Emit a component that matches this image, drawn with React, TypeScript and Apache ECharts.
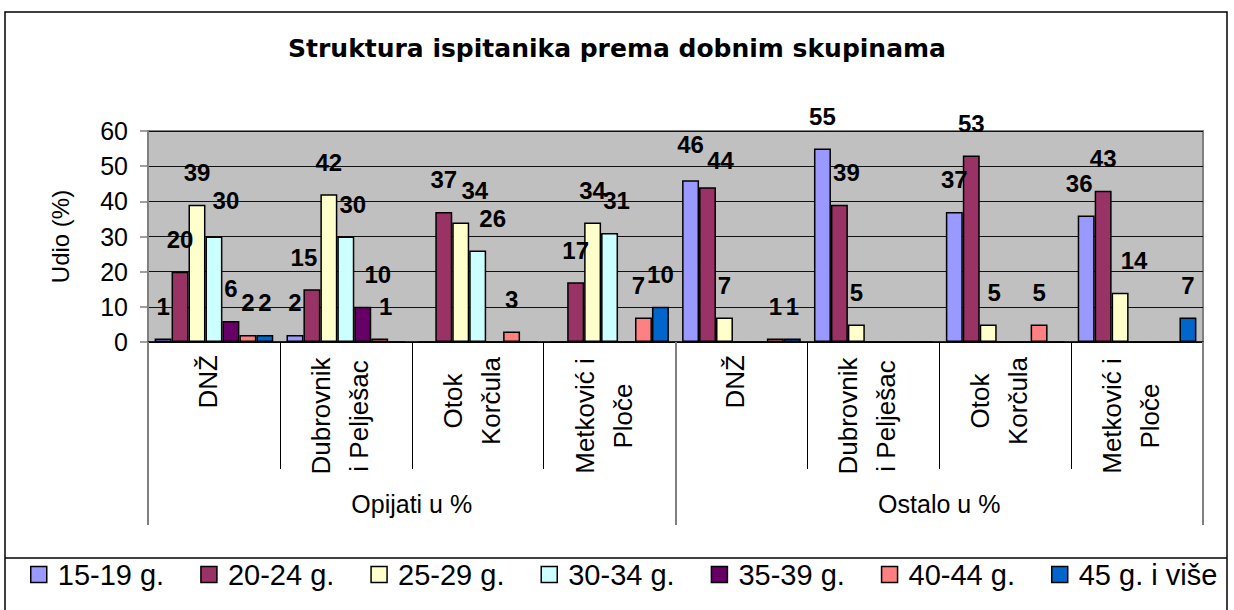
import React, { useEffect, useRef } from "react";
import * as echarts from "echarts";

const titleText = "Struktura ispitanika prema dobnim skupinama";
const yAxisName = "Udio (%)";
const categories = [
  "DNŽ",
  "Dubrovnik\ni Pelješac",
  "Otok\nKorčula",
  "Metković i\nPloče",
  "DNŽ",
  "Dubrovnik\ni Pelješac",
  "Otok\nKorčula",
  "Metković i\nPloče",
];
const groups = ["Opijati u %", "Ostalo u %"];
const ageGroups = ["15-19 g.", "20-24 g.", "25-29 g.", "30-34 g.", "35-39 g.", "40-44 g.", "45 g. i više"];
const s15_19 = [1, 2, 0, 0, 46, 55, 37, 36];
const s20_24 = [20, 15, 37, 17, 44, 39, 53, 43];
const s25_29 = [39, 42, 34, 34, 7, 5, 5, 14];
const s30_34 = [30, 30, 26, 31, 0, 0, 0, 0];
const s35_39 = [6, 10, 0, 0, 0, 0, 0, 0];
const s40_44 = [2, 1, 3, 7, 1, 0, 5, 0];
const s45plus = [2, 0, 0, 10, 1, 0, 0, 7];
const seriesValues = [s15_19, s20_24, s25_29, s30_34, s35_39, s40_44, s45plus];
const colors = ["#9999FF", "#993366", "#FFFFCC", "#CCFFFF", "#660066", "#FF8080", "#0066CC"];

// label nudges (series index, category index, dx, dy) as placed in the original
const labelShifts: number[][] = [
  [3, 0, 12, -4],
  [1, 1, -8, 0],
  [4, 1, 15, 0],
  [5, 1, 6, 0],
  [3, 1, 7, 0],
  [2, 2, 14, 0],
  [3, 2, 15, 0],
  [3, 3, 7, 0],
  [5, 3, -5, 0],
  [1, 4, 13, 5],
  [0, 4, 0, -4],
  [1, 5, 7, 0],
  [2, 6, 6, 0],
  [0, 7, -7, 0],
  [2, 7, 14, 0],
];

const FONT = "'Liberation Sans', Arial, sans-serif";

export default function App() {
  const ref = useRef<HTMLDivElement>(null);
  useEffect(() => {
    if (!ref.current) return;
    const chart = echarts.init(ref.current, null, { renderer: "svg" });
    const catLabel = (value: string) => {
      if (value.indexOf("\n") < 0) return value;
      const style = value.startsWith("Otok") ? "mid" : "wide";
      return value
        .split("\n")
        .map((l) => `{${style}|${l}}`)
        .join("\n");
    };
    const buildData = (si: number) =>
      seriesValues[si].map((v, ci) => {
        const s = labelShifts.find((r) => r[0] === si && r[1] === ci);
        return s ? { value: v, label: { offset: [s[2], s[3]] } } : v;
      });
    chart.setOption({
      animation: false,
      color: colors,
      textStyle: { fontFamily: FONT, color: "#000" },
      title: {
        text: titleText,
        left: "center",
        top: 31,
        textStyle: { fontFamily: "'DejaVu Sans', sans-serif", fontWeight: "bold", fontSize: 25, color: "#000" },
      },
      graphic: [
        {
          type: "rect",
          shape: { x: 5, y: 12, width: 1222, height: 640 },
          style: { fill: "none", stroke: "#000", lineWidth: 1.5 },
          silent: true,
        },
        {
          type: "line",
          shape: { x1: 5, y1: 558, x2: 1227, y2: 558 },
          style: { stroke: "#000", lineWidth: 1.5 },
          silent: true,
        },
      ],
      legend: {
        left: 30,
        top: 560,
        padding: 0,
        itemWidth: 16,
        itemHeight: 16,
        itemGap: 36,
        icon: "rect",
        itemStyle: { borderColor: "#000", borderWidth: 1.5 },
        textStyle: { fontFamily: FONT, fontSize: 29, color: "#000", padding: [0, 0, 0, 6] },
        data: ageGroups,
      },
      grid: {
        left: 148,
        top: 131,
        right: 31,
        bottom: 268,
        show: true,
        backgroundColor: "#C0C0C0",
        borderColor: "#808080",
        borderWidth: 2,
      },
      xAxis: [
        {
          type: "category",
          data: categories,
          position: "bottom",
          axisLine: { show: true, lineStyle: { color: "#000", width: 1.5 } },
          axisTick: { show: true, interval: 0, length: 127, lineStyle: { color: "#000", width: 1 } },
          axisLabel: {
            interval: 0,
            rotate: 90,
            margin: 13,
            fontSize: 26,
            fontFamily: FONT,
            color: "#000",
            lineHeight: 38,
            padding: [0, 0, 12, 0],
            formatter: catLabel,
            rich: {
              wide: { width: 122, align: "center", fontSize: 26, lineHeight: 38, fontFamily: FONT, color: "#000" },
              mid: { width: 92, align: "center", fontSize: 26, lineHeight: 38, fontFamily: FONT, color: "#000" },
            },
          },
        },
        {
          type: "category",
          data: groups,
          position: "bottom",
          gridIndex: 0,
          axisLine: { show: false },
          axisTick: { show: true, interval: 0, length: 183, lineStyle: { color: "#808080", width: 2 } },
          axisLabel: { interval: 0, margin: 149, fontSize: 25, fontFamily: FONT, color: "#000" },
        },
      ],
      yAxis: {
        type: "value",
        min: 0,
        max: 60,
        interval: 10,
        name: yAxisName,
        nameLocation: "middle",
        nameRotate: 90,
        nameGap: 76,
        nameTextStyle: { fontSize: 24, fontFamily: FONT, color: "#000" },
        axisLine: { show: true, lineStyle: { color: "#808080", width: 2 } },
        axisTick: { show: true, length: 8, lineStyle: { color: "#808080", width: 1.5 } },
        axisLabel: { fontSize: 25, margin: 20, fontFamily: FONT, color: "#000" },
        splitLine: { show: true, lineStyle: { color: "#111", width: 1 } },
      },
      series: ageGroups.map((name, i) => ({
        name,
        type: "bar",
        xAxisIndex: 0,
        data: buildData(i),
        barGap: "0%",
        barCategoryGap: "10%",
        itemStyle: { color: colors[i], borderColor: "#000", borderWidth: 1.5 },
        label: {
          show: true,
          position: "top",
          distance: 20,
          fontSize: 24,
          fontWeight: "bold",
          fontFamily: FONT,
          color: "#000",
          formatter: (p: any) => (p.value > 0 ? String(p.value) : ""),
        },
      })),
    });
    return () => chart.dispose();
  }, []);
  return (
    <div
      ref={ref}
      style={{ position: "fixed", left: 0, top: 0, width: 1234, height: 610, background: "#fff" }}
    />
  );
}
